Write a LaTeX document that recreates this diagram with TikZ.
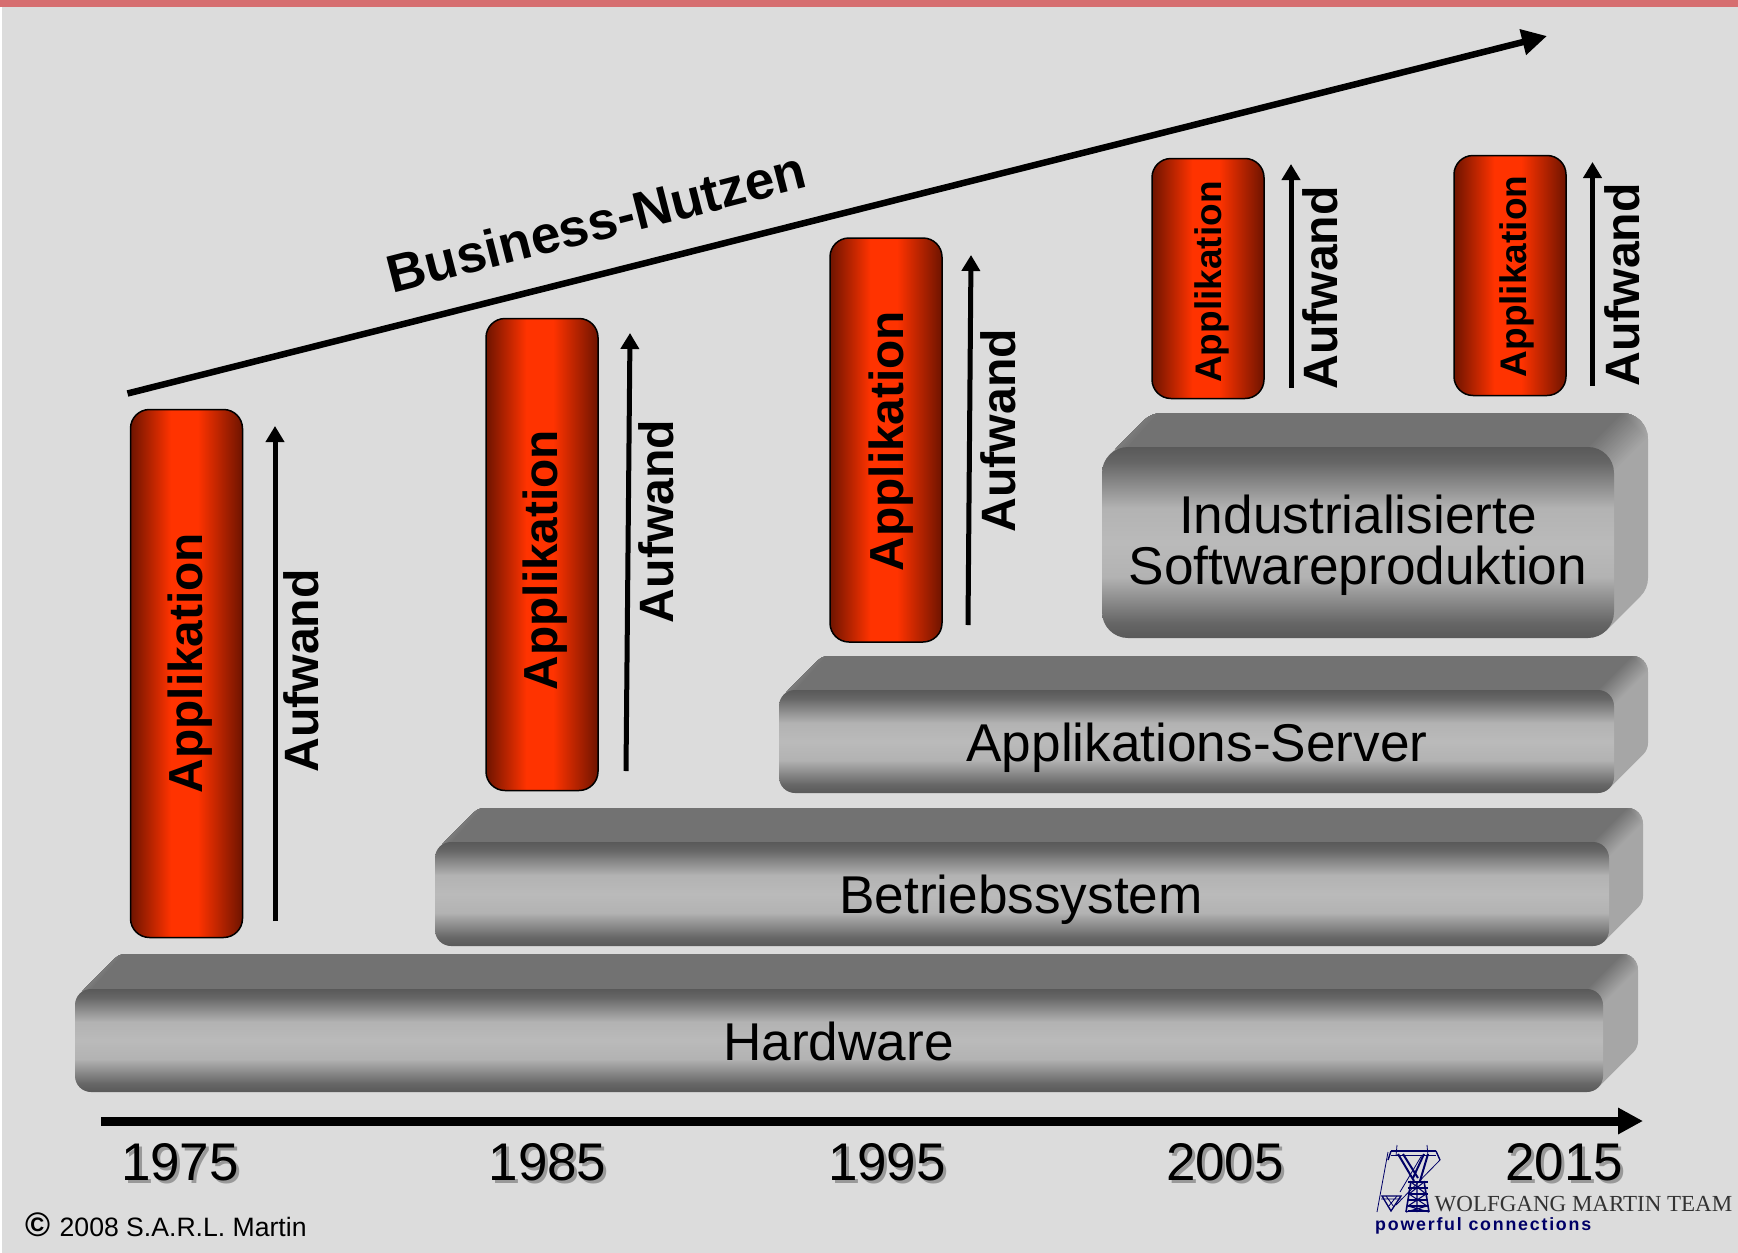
\documentclass[tikz,border=0pt]{standalone}
\usepackage{fontspec}
\setmainfont{Liberation Sans}
\newfontfamily\logoserif{Liberation Serif}
\usetikzlibrary{arrows.meta}
\definecolor{bgc}{HTML}{DCDCDC}
\definecolor{topc}{HTML}{727272}
\definecolor{sidec}{HTML}{A6A6A6}
\definecolor{navyc}{HTML}{000066}
\definecolor{barc}{HTML}{D66E70}
\pgfdeclareverticalshading{laybar}{100bp}{color(0bp)=(black!65!white);
 color(25bp)=(black!65!white); color(29bp)=(black!60!white); color(41bp)=(black!30!white); color(50bp)=(black!27!white);
 color(59bp)=(black!30!white); color(71bp)=(black!60!white); color(75bp)=(black!65!white); color(100bp)=(black!65!white)}
\definecolor{reddark}{HTML}{6E1400}
\definecolor{redlight}{HTML}{FF3300}
\pgfdeclarehorizontalshading{redbar}{100bp}{color(0bp)=(reddark); color(25bp)=(reddark);
 color(43bp)=(redlight); color(55bp)=(redlight); color(75bp)=(reddark); color(100bp)=(reddark)}
\tikzset{
 x=1pt,y=-1pt,
 layerface/.style={shade,shading=laybar,rounded corners=#1,inner sep=0pt,outer sep=0pt},
 layertext/.style={anchor=base,inner sep=0pt,font=\fontsize{53.2}{53}\selectfont,text=black},
 redbox/.style={shade,shading=redbar,draw=black,line width=1.5pt,rounded corners=19pt,inner sep=0pt,outer sep=0pt,minimum width=112pt},
 apptext/.style={anchor=base,rotate=90,inner sep=0pt,font=\fontsize{#1}{#1}\selectfont\bfseries},
 auftext/.style={anchor=base,rotate=90,inner sep=0pt,font=\fontsize{48.2}{48}\selectfont\bfseries},
 uparrow/.style={line width=5pt,-{Triangle[length=16pt,width=18pt]}},
 bigarrow/.style={line width=#1,-{Triangle[length=25pt,width=25pt]}},
 yeartext/.style={anchor=base,inner sep=0pt,font=\fontsize{53}{53}\selectfont},
 pylon/.style={draw=navyc,line width=0.8pt},
}
% name, x0,y0,x1,y1 (front face), r, depth
\newcommand{\layerbox}[7]{%
 \pgfmathsetmacro{\xa}{#2}\pgfmathsetmacro{\ya}{#3}\pgfmathsetmacro{\xb}{#4}\pgfmathsetmacro{\yb}{#5}%
 \pgfmathsetmacro{\rr}{#6}\pgfmathsetmacro{\dd}{#7}%
 \begin{scope}
  \path[clip] (\xa+.293*\rr,\ya+.293*\rr) -- (\xa+\dd+.293*\rr,\ya-\dd+.293*\rr)
   .. controls (\xa+\dd+.48*\rr,\ya-\dd+.105*\rr) and (\xa+\dd+.735*\rr,\ya-\dd) .. (\xa+\dd+\rr,\ya-\dd)
   -- (\xb+\dd-\rr,\ya-\dd)
   .. controls (\xb+\dd-.448*\rr,\ya-\dd) and (\xb+\dd,\ya-\dd+.448*\rr) .. (\xb+\dd,\ya-\dd+\rr)
   -- (\xb+\dd,\yb-\dd-\rr)
   .. controls (\xb+\dd,\yb-\dd-.735*\rr) and (\xb+\dd-.105*\rr,\yb-\dd-.48*\rr) .. (\xb+\dd-.293*\rr,\yb-\dd-.293*\rr)
   -- (\xb-.293*\rr,\yb-.293*\rr) -- (\xa+.293*\rr,\yb-.293*\rr) -- cycle;
  \fill[sidec] (\xa-2,\ya-\dd-2) rectangle (\xb+\dd+2,\yb+2);
  \foreach \k in {20,19,...,0}{%
   \pgfmathsetmacro{\t}{\k/20}\pgfmathsetmacro{\m}{\k*5}%
   \fill[color=sidec!\m!topc] (\xa-2,\ya) -- (\xb-\rr+\t*\rr,\ya+\t*\rr) -- (\xb+\dd-\rr+\t*\rr,\ya-\dd+\t*\rr) -- (\xb+\dd-\rr+\t*\rr,\ya-\dd-2) -- (\xa-2,\ya-\dd-2) -- cycle;
  }
  \foreach \k in {10,9,...,1}{%
   \pgfmathsetmacro{\t}{\k/10}\pgfmathsetmacro{\m}{(10-\k)*5}%
   \fill[color=sidec!\m!topc] (\xa,\ya+2) -- (\xa+\dd,\ya-\dd+2) -- (\xa+\dd+\t*\rr,\ya-\dd-2) -- (\xa+\t*\rr,\ya+2) -- cycle;
  }
 \end{scope}
 \node[layerface=\rr pt,minimum width={(\xb-\xa)*1pt},minimum height={(\yb-\ya)*1pt}] (#1) at ({(\xa+\xb)/2},{(\ya+\yb)/2}) {};
}
\newcommand{\yearlabel}[3]{%
 \node[yeartext,text=black!40!white] (#1s) at (#2+3,1183) {#3};
 \node[yeartext,text=black] (#1) at (#2,1180) {#3};
}
\begin{document}
\begin{tikzpicture}
\useasboundingbox (0,0) rectangle (1738,1253);
\fill[white] (0,0) rectangle (1738,1253);
\fill[bgc] (2,0) rectangle (1738,1253);
\fill[barc] (0,0) rectangle (1738,7);

% layers
\layerbox{hw}{75}{989}{1603}{1092}{16}{35}
\layerbox{os}{435}{842}{1609}{946}{16}{34}
\layerbox{as}{779}{690}{1614}{793}{16}{34}
\layerbox{ind}{1102}{447}{1614}{638}{26}{34}
\node[layertext] (thw) at (838.5,1060) {Hardware};
\node[layertext] (tos) at (1021,913) {Betriebssystem};
\node[layertext] (tas) at (1197,761.5) {Applikations-Server};
\node[layertext] (tinda) at (1358,533) {Industrialisierte};
\node[layertext] (tindb) at (1358,584) {Softwareproduktion};

% red application boxes
\node[redbox,minimum height=528pt] (r1) at (186.5,673.5) {};
\node[redbox,minimum height=472pt] (r2) at (542,554.5) {};
\node[redbox,minimum height=404pt] (r3) at (886,440) {};
\node[redbox,minimum height=240pt] (r4) at (1208,278.5) {};
\node[redbox,minimum height=240pt] (r5) at (1510,275.5) {};
\node[apptext=47.8] (ta1) at (202,663) {Applikation};
\node[apptext=47.8] (ta2) at (557,560) {Applikation};
\node[apptext=47.8] (ta3) at (903,441) {Applikation};
\node[apptext=37] (ta4) at (1221,282) {Applikation};
\node[apptext=37] (ta5) at (1526,276.5) {Applikation};

% effort arrows
\coordinate (u1a) at (275,921); \coordinate (u1b) at (275,426);
\coordinate (u2a) at (626,771); \coordinate (u2b) at (630,333);
\coordinate (u3a) at (968,625); \coordinate (u3b) at (971,255);
\coordinate (u4a) at (1291,388); \coordinate (u4b) at (1291,164);
\coordinate (u5a) at (1592.5,386); \coordinate (u5b) at (1592.5,162);
\foreach \i in {1,...,5}{\draw[uparrow] (u\i a) -- (u\i b);}
\node[auftext] (f1) at (318,671) {Aufwand};
\node[auftext] (f2) at (673,521.5) {Aufwand};
\node[auftext] (f3) at (1015,430.6) {Aufwand};
\node[auftext] (f4) at (1337,288) {Aufwand};
\node[auftext] (f5) at (1639,285) {Aufwand};

% business arrow
\coordinate (ba) at (127.5,393.5); \coordinate (bb) at (1547,36);
\draw[bigarrow=6.5pt] (ba) -- (bb);
\node[anchor=base,rotate=14.3,inner sep=0pt,font=\fontsize{53}{54}\selectfont\bfseries] (tb) at (601,240) {Business-Nutzen};

% time axis
\coordinate (ta) at (101,1121); \coordinate (tz) at (1643,1121);
\draw[bigarrow=9pt] (ta) -- (tz);
\yearlabel{y75}{180}{1975}
\yearlabel{y85}{547.5}{1985}
\yearlabel{y95}{887}{1995}
\yearlabel{y05}{1225}{2005}
\yearlabel{y15}{1564}{2015}

% copyright
\node[anchor=base west,inner sep=0pt,font=\fontsize{34}{34}\selectfont\bfseries] (cs) at (25,1236) {©};
\node[anchor=base west,inner sep=0pt,font=\fontsize{26.6}{27}\selectfont] (ct) at (59.5,1236) {2008 S.A.R.L. Martin};

% logo
\begin{scope}[pylon]
 \draw[line width=2pt] (1391,1151) -- (1436,1151);
 \draw (1391,1155) -- (1436,1155);
 \draw (1397,1145) -- (1396,1156) (1427,1145) -- (1428,1156);
 \draw[line width=1.4pt] (1391,1151) -- (1388,1160) (1436,1151) -- (1440,1160);
 \draw[line width=2pt] (1398,1154) -- (1414,1181) (1403,1154) -- (1418,1178);
 \draw[line width=2pt] (1428,1154) -- (1420,1181) (1424,1154) -- (1413,1178);
 \draw (1388,1152) -- (1377,1212);
 \draw (1440,1160) -- (1396,1205);
 \draw (1422,1155) -- (1400,1192);
 \foreach \yy in {1182,1188,1194,1200,1206,1211}{\draw[line width=1.2pt] (1408,\yy) -- (1428,\yy);}
 \draw[line width=1.6pt] (1411,1181) -- (1406,1212) (1424,1181) -- (1429,1212);
 \draw[line width=1.1pt] (1411,1182) -- (1426,1194) -- (1408,1206) -- (1429,1212)
   (1424,1182) -- (1409,1194) -- (1427,1206) -- (1406,1212) (1417,1182) -- (1417,1212);
 \draw[line width=1.3pt] (1382,1196) -- (1401,1196) -- (1391,1211) -- cycle;
 \draw (1386,1196) -- (1394,1207) (1397,1196) -- (1388,1207) (1381,1199) -- (1402,1199);
\end{scope}
\node[anchor=base west,inner sep=0pt,text=black!80!white,font=\logoserif\fontsize{23}{23}\selectfont] (lw) at (1434.5,1211) {WOLFGANG MARTIN TEAM};
\node[anchor=base west,inner sep=0pt,text=navyc,font=\fontsize{17.8}{18}\selectfont\bfseries\addfontfeatures{LetterSpace=10}] (lp) at (1375,1230) {powerful connections};
\end{tikzpicture}
\end{document}
